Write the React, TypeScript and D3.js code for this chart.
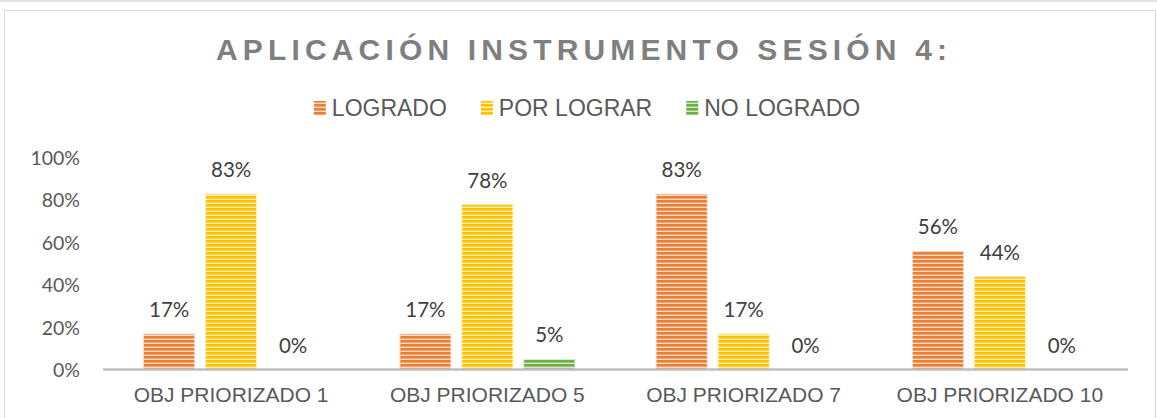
import React, { useEffect, useRef } from 'react';
import * as d3 from 'd3';

const categories = ['OBJ PRIORIZADO 1', 'OBJ PRIORIZADO 5', 'OBJ PRIORIZADO 7', 'OBJ PRIORIZADO 10'];
const seriesNames = ['LOGRADO', 'POR LOGRAR', 'NO LOGRADO'];
const logrado = [17, 17, 83, 56];
const porLograr = [83, 78, 17, 44];
const noLogrado = [0, 5, 0, 0];
const yTicks = [0, 20, 40, 60, 80, 100];

const colors = ['#ED7D31', '#FFC000', '#70AD47'];
const lightColors = ['#FBDCC8', '#FFEFB3', '#D6EAC8'];

const W = 1157;
const H = 418;

const App = () => {
  const svgRef = useRef<SVGSVGElement>(null);

  useEffect(() => {
    const svg = d3.select(svgRef.current);
    svg.selectAll('*').remove();

    const values = [logrado, porLograr, noLogrado];
    const rows = categories.map((c, i) => ({
      cat: c,
      vals: seriesNames.map((s, j) => ({ s, j, v: values[j][i] })),
    }));

    // striped fills
    const defs = svg.append('defs');
    colors.forEach((c, j) => {
      const p = defs
        .append('pattern')
        .attr('id', `stripe${j}`)
        .attr('patternUnits', 'userSpaceOnUse')
        .attr('width', 8)
        .attr('height', 4);
      p.append('rect').attr('width', 8).attr('height', 4).attr('fill', c);
      p.append('rect').attr('y', 2.6).attr('width', 8).attr('height', 1.4).attr('fill', lightColors[j]);
    });

    svg.append('rect').attr('width', W).attr('height', H).attr('fill', '#fff');
    svg
      .append('line')
      .attr('x1', 0)
      .attr('x2', W)
      .attr('y1', 1)
      .attr('y2', 1)
      .attr('stroke', '#e3e3e3')
      .attr('stroke-width', 2);
    svg
      .append('rect')
      .attr('x', 4.5)
      .attr('y', 10.5)
      .attr('width', 1151)
      .attr('height', 420)
      .attr('fill', '#fff')
      .attr('stroke', '#d9d9d9');

    // title
    svg
      .append('text')
      .attr('x', 581.5)
      .attr('y', 59.5)
      .attr('text-anchor', 'middle')
      .attr('font-family', '"Liberation Sans", Arial, sans-serif')
      .attr('font-weight', 'bold')
      .attr('font-size', 30)
      .attr('fill', '#7f7f7f')
      .attr('textLength', 731)
      .attr('lengthAdjust', 'spacing')
      .text('APLICACIÓN INSTRUMENTO SESIÓN 4:');

    // legend
    const legend = svg.append('g');
    let lx = 0;
    seriesNames.forEach((s, j) => {
      const g = legend.append('g').attr('transform', `translate(${lx},0)`);
      g.append('rect')
        .attr('x', 0)
        .attr('y', 101)
        .attr('width', 12)
        .attr('height', 14)
        .attr('fill', `url(#stripe${j})`);
      const t = g
        .append('text')
        .attr('x', 18)
        .attr('y', 116)
        .attr('font-family', '"Liberation Sans", Arial, sans-serif')
        .attr('font-size', 23)
        .attr('fill', '#595959')
        .text(s);
      const tw = (t.node() as SVGTextElement).getComputedTextLength();
      lx += 18 + tw + 34;
    });
    const legendW = lx - 34;
    legend.attr('transform', `translate(${587 - legendW / 2},0)`);

    const x0 = d3.scaleBand<string>().domain(categories).range([103, 1128]);
    const step = x0.step();
    const groupW = 175;
    const gx = (c: string) => x0(c)! + (step - groupW) / 2;
    const x1 = d3.scaleBand<string>().domain(seriesNames).range([0, groupW]).paddingInner(0.177).paddingOuter(0);
    const y = d3.scaleLinear().domain([0, 100]).range([370, 158]);

    // y tick labels
    svg
      .append('g')
      .selectAll('text')
      .data(yTicks)
      .join('text')
      .attr('x', 80)
      .attr('y', (d) => y(d))
      .attr('dy', '0.36em')
      .attr('text-anchor', 'end')
      .attr('font-family', 'Lato, "Open Sans", sans-serif')
      .attr('font-size', 19.5)
      .attr('fill', '#595959')
      .text((d) => `${d}%`);

    const groups = svg
      .append('g')
      .selectAll('g')
      .data(rows)
      .join('g')
      .attr('transform', (d) => `translate(${gx(d.cat)},0)`);

    groups
      .selectAll('rect')
      .data((d) => d.vals.filter((v) => v.v > 0))
      .join('rect')
      .attr('x', (d) => x1(d.s)!)
      .attr('y', (d) => y(d.v))
      .attr('width', x1.bandwidth())
      .attr('height', (d) => y(0) - y(d.v))
      .attr('fill', (d) => `url(#stripe${d.j})`)
      .attr('stroke', (d) => lightColors[d.j])
      .attr('stroke-width', 0.8);

    groups
      .selectAll('text')
      .data((d) => d.vals)
      .join('text')
      .attr('x', (d) => x1(d.s)! + x1.bandwidth() / 2)
      .attr('y', (d) => y(d.v) - 17)
      .attr('text-anchor', 'middle')
      .attr('font-family', 'Lato, "Open Sans", sans-serif')
      .attr('font-size', 20.5)
      .attr('fill', '#404040')
      .text((d) => `${d.v}%`);

    // x axis line
    svg
      .append('line')
      .attr('x1', 103)
      .attr('x2', 1128)
      .attr('y1', 369.5)
      .attr('y2', 369.5)
      .attr('stroke', '#bfbfbf')
      .attr('stroke-width', 2.5);

    svg
      .append('g')
      .selectAll('text')
      .data(categories)
      .join('text')
      .attr('x', (d) => gx(d) + groupW / 2)
      .attr('y', 402)
      .attr('text-anchor', 'middle')
      .attr('font-family', '"Liberation Sans", Arial, sans-serif')
      .attr('font-size', 21)
      .attr('fill', '#595959')
      .text((d) => d);
  }, []);

  return <svg ref={svgRef} width={W} height={H} style={{ position: 'absolute', left: 0, top: 0 }} />;
};

export default App;
